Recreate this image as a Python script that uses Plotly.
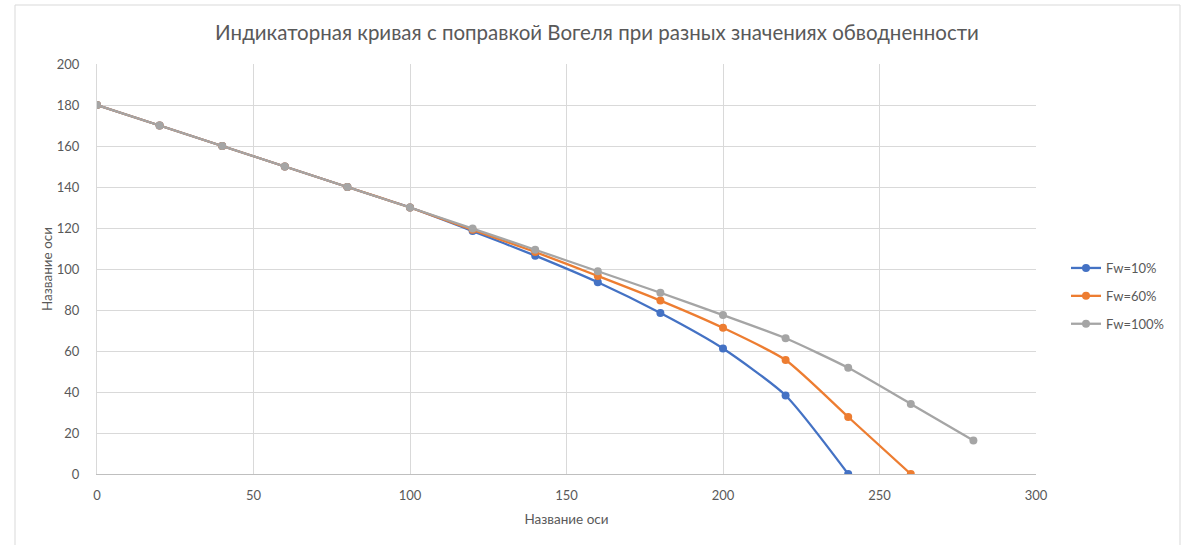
import plotly.graph_objects as go

# Дебит (ось X) и забойное давление (ось Y) для трёх значений обводненности
q_fw10 = [0, 20, 40, 60, 80, 100, 120, 140, 160, 180, 200, 220, 240]
p_fw10 = [180, 170, 160, 150, 140, 130, 118.5, 106.5, 93.5, 78.5, 61.2, 38.3, 0]

q_fw60 = [0, 20, 40, 60, 80, 100, 120, 140, 160, 180, 200, 220, 240, 260]
p_fw60 = [180, 170, 160, 150, 140, 130, 119.1, 108.3, 96.6, 84.6, 71.3, 55.6, 27.8, 0]

q_fw100 = [0, 20, 40, 60, 80, 100, 120, 140, 160, 180, 200, 220, 240, 260, 280]
p_fw100 = [180, 170, 160, 150, 140, 130, 119.7, 109.4, 98.9, 88.4, 77.5, 66.2, 51.8, 34.2, 16.3]

series_names = ["Fw=10%", "Fw=60%", "Fw=100%"]
series_colors = ["#4472C4", "#ED7D31", "#A5A5A5"]

x_ticks = [0, 50, 100, 150, 200, 250, 300]
y_ticks = [0, 20, 40, 60, 80, 100, 120, 140, 160, 180, 200]

title_text = "Индикаторная кривая с поправкой Вогеля при разных значениях обводненности"
axis_title = "Название оси"

FONT = "Lato, 'Open Sans', sans-serif"
TEXT_COLOR = "#595959"
GRID = "#D9D9D9"

fig = go.Figure()
for q, p, name, color in zip(
    [q_fw10, q_fw60, q_fw100], [p_fw10, p_fw60, p_fw100], series_names, series_colors
):
    fig.add_trace(
        go.Scatter(
            x=q,
            y=p,
            name=name,
            legendgroup=name,
            mode="lines+markers",
            line=dict(color=color, width=2.3, shape="spline", smoothing=0.6),
            marker=dict(color=color, size=8),
        )
    )

# plot area: x 97..1036 px, y 64..474 px
L, R, T, B = 97, 1036, 64, 474
W, H = 1194, 545
pw, ph = R - L, B - T


def px_x(v):
    return (v - L) / pw


def px_y(v):
    return (B - v) / ph


fig.update_layout(
    width=W,
    height=H,
    margin=dict(l=L, r=W - R, t=T, b=H - B, pad=0),
    paper_bgcolor="white",
    plot_bgcolor="white",
    font=dict(family=FONT, color=TEXT_COLOR, size=13),
    title=dict(
        text=title_text,
        x=0.5,
        xref="container",
        xanchor="center",
        y=1 - 33 / H,
        yref="container",
        yanchor="middle",
        font=dict(size=20.5, color=TEXT_COLOR, family=FONT),
    ),
    xaxis=dict(
        range=[0, 300],
        tickvals=x_ticks,
        showgrid=True,
        gridcolor=GRID,
        gridwidth=1,
        zeroline=False,
        showline=True,
        linecolor="#BFBFBF",
        linewidth=1,
        ticks="",
        ticklabelstandoff=9,
        tickfont=dict(size=13, color=TEXT_COLOR),
        title=dict(text=axis_title, font=dict(size=13.5, color=TEXT_COLOR), standoff=12),
    ),
    yaxis=dict(
        range=[0, 200],
        tickvals=y_ticks,
        showgrid=True,
        gridcolor=GRID,
        gridwidth=1,
        zeroline=False,
        showline=True,
        linecolor="#D9D9D9",
        linewidth=1,
        ticks="",
        ticklabelstandoff=14,
        tickfont=dict(size=13, color=TEXT_COLOR),
        title=dict(text=axis_title, font=dict(size=13.5, color=TEXT_COLOR), standoff=1),
    ),
    legend=dict(
        x=px_x(1066),
        xanchor="left",
        y=px_y(296),
        yanchor="middle",
        font=dict(size=13, color=TEXT_COLOR),
        bgcolor="rgba(0,0,0,0)",
        itemwidth=30,
        tracegroupgap=8,
    ),
    shapes=[
        dict(
            type="rect",
            xref="paper",
            yref="paper",
            x0=px_x(15),
            x1=px_x(1180),
            y0=px_y(552),
            y1=px_y(5),
            line=dict(color="#D9D9D9", width=1),
            fillcolor="rgba(0,0,0,0)",
            layer="below",
        )
    ],
)

fig.write_html("out.html")
